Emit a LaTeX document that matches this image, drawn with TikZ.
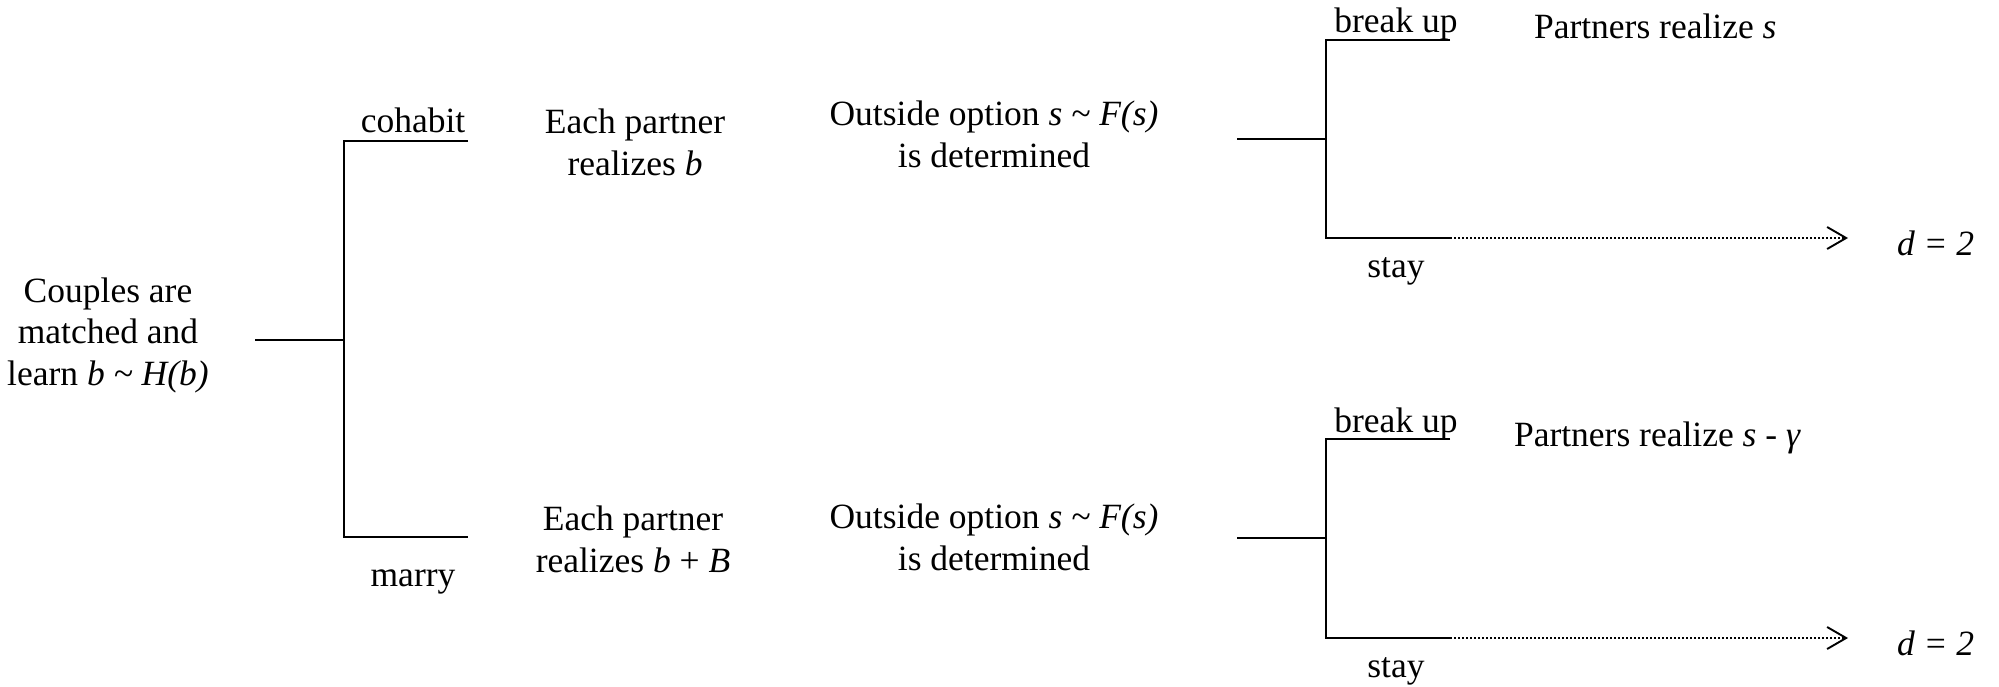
\documentclass[tikz,border=0pt]{standalone}
\usepackage{fontspec}
\setmainfont{Liberation Serif}
\usetikzlibrary{arrows.meta}
\begin{document}
\begin{tikzpicture}[x=1pt,y=-1pt,
  every node/.style={inner sep=0pt,outer sep=0pt,font=\fontsize{35.5}{41.5}\selectfont},
  lbl/.style={anchor=base,align=center},
  branch/.style={line width=1.8pt},
  cont/.style={line width=2pt,dotted,-{Straight Barb[length=19pt,width=22pt,line width=1.9pt]}}]
\useasboundingbox (0,0) rectangle (1999,686);
% text (anchor base = baseline of the last line)
\node[lbl] (start) at (108,385) {Couples are\\matched and\\learn \textit{b \textasciitilde{} H(b)}};
\node[lbl] (cohab) at (413,132) {cohabit};
\node[lbl] (marry) at (413,586) {marry};
\node[lbl] (each1) at (635,175) {Each partner\\realizes \textit{b}};
\node[lbl] (each2) at (633,572) {Each partner\\realizes \textit{b} + \textit{B}};
\node[lbl] (out1) at (994,167) {Outside option \textit{s \textasciitilde{} F(s)}\\is determined};
\node[lbl] (out2) at (994,570) {Outside option \textit{s \textasciitilde{} F(s)}\\is determined};
\node[lbl] (bu1) at (1396,32) {break up};
\node[lbl] (bu2) at (1396,432) {break up};
\node[lbl,anchor=base west] (pr1) at (1534,38) {Partners realize \textit{s}};
\node[lbl,anchor=base west] (pr2) at (1514,446) {Partners realize \textit{s} - \textit{γ}};
\node[lbl] (st1) at (1396,277) {stay};
\node[lbl] (st2) at (1396,677) {stay};
\node[lbl,anchor=base west] (d1) at (1897,255) {\textit{d = 2}};
\node[lbl,anchor=base west] (d2) at (1897,655) {\textit{d = 2}};
% tree points
\coordinate (r0) at (255,340);
\coordinate (r1) at (344,340);
\coordinate (c0) at (344,141);
\coordinate (c1) at (468,141);
\coordinate (m0) at (344,537);
\coordinate (m1) at (468,537);
\coordinate (a0) at (1237,139);
\coordinate (a1) at (1326,139);
\coordinate (ab0) at (1326,40);
\coordinate (ab1) at (1450,40);
\coordinate (as0) at (1326,238);
\coordinate (as1) at (1450,238);
\coordinate (ae) at (1848,238);
\coordinate (b0) at (1237,538);
\coordinate (b1) at (1326,538);
\coordinate (bb0) at (1326,439);
\coordinate (bb1) at (1450,439);
\coordinate (bs0) at (1326,638);
\coordinate (bs1) at (1450,638);
\coordinate (be) at (1848,638);
% branches
\draw[branch] (r0) -- (r1);
\draw[branch] (c1) -- (c0) -- (m0) -- (m1);
\draw[branch] (a0) -- (a1);
\draw[branch] (ab1) -- (ab0) -- (as0) -- (as1);
\draw[branch] (b0) -- (b1);
\draw[branch] (bb1) -- (bb0) -- (bs0) -- (bs1);
\draw[cont] (as1) -- (ae);
\draw[cont] (bs1) -- (be);
\end{tikzpicture}
\end{document}
